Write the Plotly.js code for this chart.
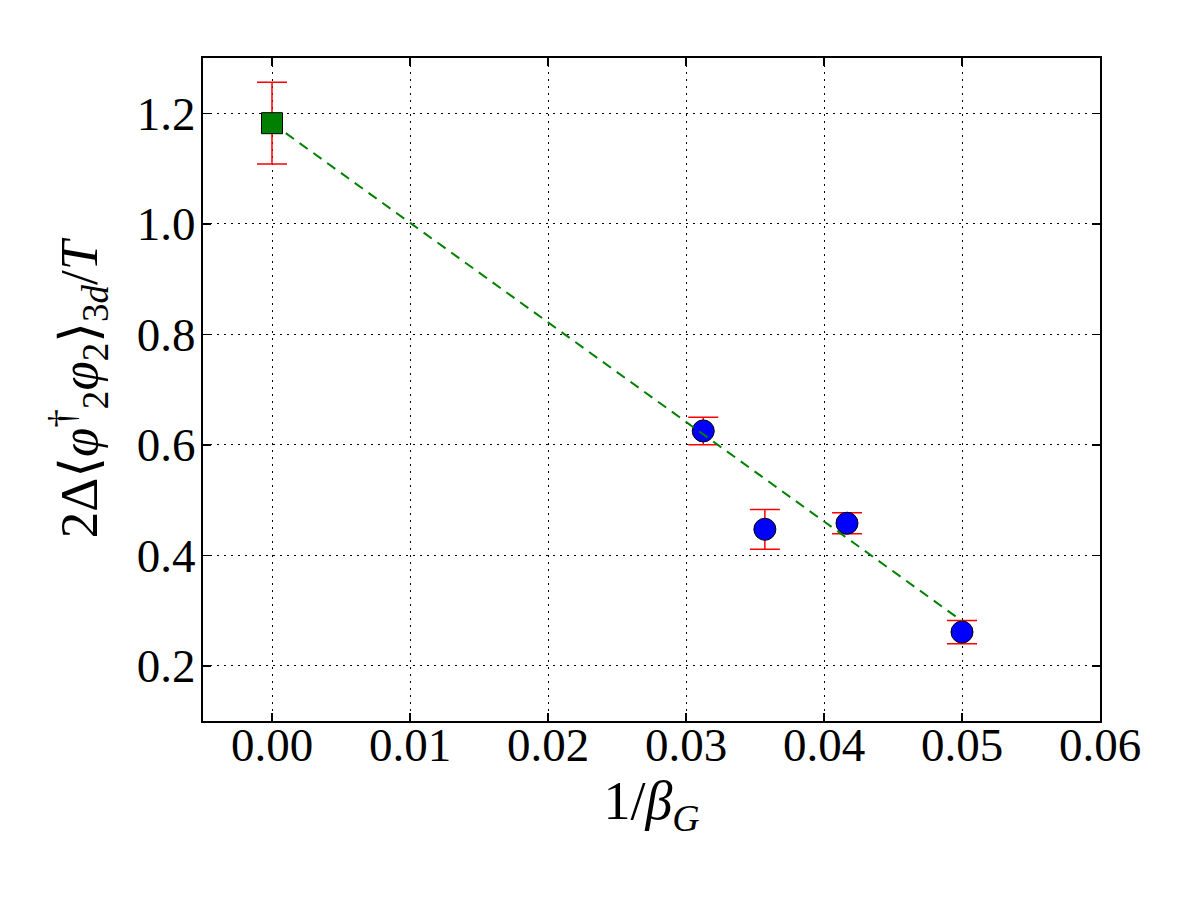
<!DOCTYPE html>
<html>
<head>
<meta charset="utf-8">
<script src="https://cdn.plot.ly/plotly-3.0.1.min.js"></script>
<style>
  html, body { margin: 0; padding: 0; background: #fff; }
  #plot { width: 1200px; height: 900px; }
</style>
</head>
<body>
<div id="plot"></div>
<script>
// Lattice measurements at finite 1/beta_G
const invBeta = [1 / 32, 1 / 28, 1 / 24, 1 / 20];
const condensate = [0.625, 0.447, 0.458, 0.261];
const condensateErr = [0.025, 0.036, 0.019, 0.021];

// Continuum extrapolation (1/beta_G -> 0)
const contX = [0];
const contY = [1.182];
const contErr = [0.074];

// Linear fit used for the extrapolation
const fitX = [0, 0.05];
const fitY = [1.182, 0.281];

const xTicks = [0, 0.01, 0.02, 0.03, 0.04, 0.05, 0.06];
const yTicks = [0.2, 0.4, 0.6, 0.8, 1.0, 1.2];

const serif = 'Liberation Serif, DejaVu Serif, serif';

const traces = [
  {
    x: invBeta, y: condensate, type: 'scatter', mode: 'markers',
    marker: { symbol: 'circle', size: 22, color: 'rgb(0,0,255)', line: { color: '#000', width: 1 } },
    error_y: { type: 'data', array: condensateErr, visible: true, color: 'rgb(255,0,0)', thickness: 1.5, width: 15 },
    showlegend: false, hoverinfo: 'x+y'
  },
  {
    x: fitX, y: fitY, type: 'scatter', mode: 'lines',
    line: { color: 'rgb(0,128,0)', width: 2, dash: '10px,7px' },
    showlegend: false, hoverinfo: 'skip'
  },
  {
    x: contX, y: contY, type: 'scatter', mode: 'markers',
    marker: { symbol: 'square', size: 21, color: 'rgb(0,128,0)', line: { color: '#000', width: 1 } },
    error_y: { type: 'data', array: contErr, visible: true, color: 'rgb(255,0,0)', thickness: 1.5, width: 15 },
    showlegend: false, hoverinfo: 'x+y'
  }
];

const axisCommon = {
  showline: true, linecolor: '#000', linewidth: 2, mirror: 'ticks',
  ticks: 'inside', ticklen: 8, tickwidth: 1.5, tickcolor: '#000',
  showgrid: true, gridcolor: '#000', gridwidth: 1, griddash: '2px,5px',
  zeroline: false,
  tickfont: { family: serif, size: 47, color: '#000' }
};

const layout = {
  width: 1200, height: 900,
  margin: { l: 203, r: 100, t: 58, b: 179 },
  paper_bgcolor: '#fff', plot_bgcolor: '#fff',
  xaxis: Object.assign({}, axisCommon, {
    range: [-0.005, 0.06],
    tickvals: xTicks, ticktext: xTicks.map(v => v.toFixed(2)),
    ticklabelstandoff: -18,
    title: { text: '1/<i>β</i><sub><i>G</i></sub>', font: { family: serif, size: 54, color: '#000' }, standoff: 8 }
  }),
  yaxis: Object.assign({}, axisCommon, {
    range: [0.1, 1.3],
    tickvals: yTicks, ticktext: yTicks.map(v => v.toFixed(1)),
    ticklabelstandoff: -4,
    title: {
      text: '2Δ⟨<i>φ</i><sup>†</sup><sub>2</sub><i>φ</i><sub>2</sub>⟩<sub>3<i>d</i></sub>/<i>T</i>',
      font: { family: serif, size: 53, color: '#000' }, standoff: 22
    }
  }),
  showlegend: false
};

Plotly.newPlot('plot', traces, layout, { displayModeBar: false, staticPlot: true });
</script>
</body>
</html>
